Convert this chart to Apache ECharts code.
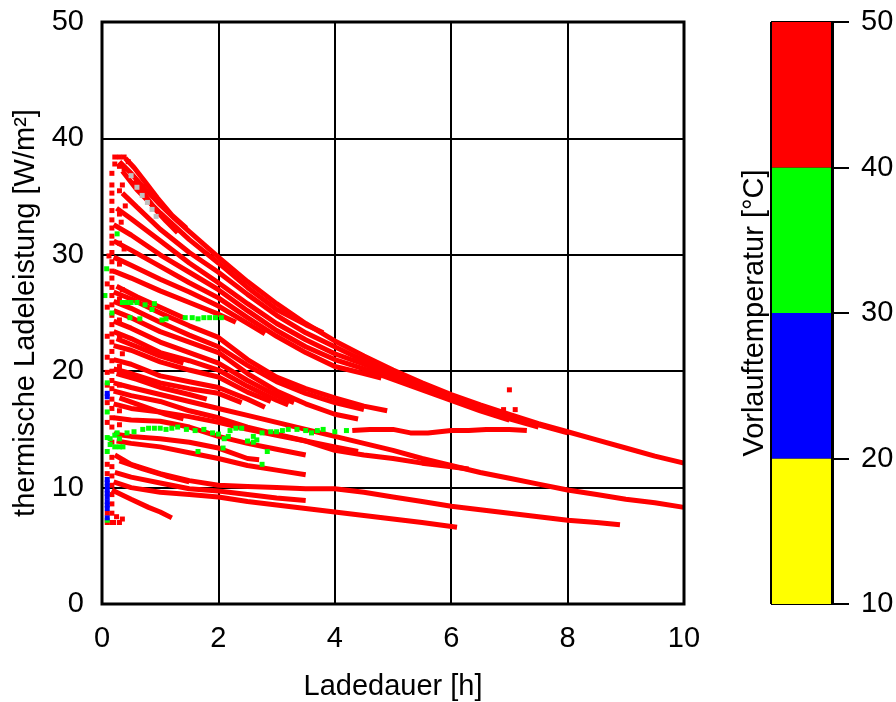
<!DOCTYPE html>
<html>
<head>
<meta charset="utf-8">
<script src="https://cdn.jsdelivr.net/npm/echarts@6/dist/echarts.min.js"></script>
<style>html,body{margin:0;padding:0;background:#fff}#c{width:896px;height:702px}</style>
</head>
<body>
<div id="c"></div>
<script>
// ---- axis / text data ----
const xAxisName = 'Ladedauer [h]';
const yAxisName = 'thermische Ladeleistung [W/m²]';
const cbarName = 'Vorlauftemperatur [°C]';
const xRange = [0, 10, 2];
const yRange = [0, 50, 10];
const cbarRange = [10, 50, 10];
const cbarBands = [[10, 20], [20, 30], [30, 40], [40, 50]];
const cbarColors = ['#ffff00', '#0000ff', '#00ff00', '#ff0000'];

// ---- red curves (Vorlauf 40-50 °C) ----
const topCurves = [
  [[0.35,37.2],[0.6,35.6],[1,33.6],[1.5,31.3],[2,29.3],[2.5,27.2],[3,25.3],[3.5,24.0],[3.8,23.3]],
  [[0.3,38.0],[0.5,37.0],[0.75,35.6],[1,34.3],[1.25,33.1],[1.5,32.0],[1.75,30.9],[2,29.8],[2.5,27.7],[3,25.8],[3.5,24.1],[4,22.6],[4.5,21.3],[5,20.1],[5.5,19.0],[6,18.0],[6.5,17.1],[7,16.3],[7.5,15.5],[8,14.8],[8.5,14.1],[9,13.4],[9.5,12.7],[10,12.1]],
  [[0.35,35.3],[0.6,34.1],[1,32.2],[1.5,30.2],[2,28.5],[2.5,26.6],[3,24.8],[3.5,23.3],[4,22.1],[4.5,20.9],[5,19.9],[5.5,18.9],[6,17.9],[6.5,17.0],[7,16.2],[7.5,15.4],[8,14.7]],
  [[0.25,34.0],[0.5,33.1],[1,31.2],[1.5,29.3],[2,27.6],[2.5,25.8],[3,24.1],[3.5,22.7],[4,21.5],[4.5,20.6],[5,19.6],[5.5,18.6],[6,17.6],[6.5,16.7],[7,15.9],[7.5,15.2]],
  [[0.2,32.6],[0.5,31.7],[1,30.0],[1.5,28.5],[2,27.0],[2.5,25.2],[3,23.5],[3.5,22.1],[4,21.0],[4.5,20.2],[5,19.3],[5.5,18.4],[6,17.5],[6.5,16.6],[7,15.8]],
  [[0.2,31.2],[0.5,30.4],[1,29.0],[1.5,27.6],[2,26.3],[2.5,24.6],[3,23.0],[3.5,21.6],[4,20.4],[4.5,19.8],[4.8,19.4]],
  [[0.2,29.8],[0.5,29.1],[1,27.9],[1.5,26.8],[2,25.6],[2.5,24.1],[2.8,23.2]],
  [[0.2,28.6],[0.5,28.0],[1,26.9],[1.5,25.9],[2,24.9],[2.3,24.2]],
  [[0.4,38.3],[0.55,37.5],[0.75,36.2],[0.95,34.9],[1.2,33.4],[1.45,32.3]],
  [[0.55,36.4],[0.7,35.4],[0.9,34.0],[1.1,32.9],[1.3,31.9]],
  [[0.25,27.3],[0.6,26.4],[1.0,25.5],[1.4,24.6]]
];
const midCurves = [
  [[0.2,26.8],[0.5,26.2],[1,25.0],[1.5,23.9],[2,22.9],[2.5,21.0],[3,19.5],[3.5,18.5],[4,17.7],[4.5,17.0],[4.9,16.6]],
  [[0.2,26.0],[0.5,25.4],[1,24.2],[1.5,23.1],[2,22.1],[2.5,20.5],[3,19.1],[3.5,18.1],[4,17.3],[4.5,16.7]],
  [[0.2,25.2],[0.5,24.6],[1,23.4],[1.5,22.5],[2,21.6],[2.5,19.8],[3,18.3],[3.5,17.2],[4,16.3],[4.4,15.9]],
  [[0.2,24.3],[0.5,23.7],[1,22.5],[1.5,21.6],[2,20.7],[2.5,19.2],[3,17.9],[3.3,17.3]],
  [[0.2,23.4],[0.5,22.8],[1,21.6],[1.5,20.9],[2,20.1],[2.5,18.7],[3,17.5],[3.2,17.1]],
  [[0.2,22.2],[0.5,21.8],[1,20.8],[1.5,20.1],[2,19.5],[2.5,18.2],[2.9,17.4]],
  [[0.2,21.0],[0.5,20.6],[1,19.6],[1.5,19.1],[2,18.6],[2.5,17.6],[2.8,16.9]],
  [[0.2,20.2],[0.5,19.8],[1,19.0],[1.5,18.5],[2,18.1],[2.4,17.3]],
  [[0.25,22.8],[0.6,22.1],[1.0,21.3],[1.4,20.7]],
  [[0.25,19.8],[0.6,19.3],[1.0,18.6],[1.5,18.0],[1.8,17.6]],
  [[0.3,17.7],[0.7,17.0],[1.1,16.3],[1.4,15.9]]
];
const lowerMidCurves = [
  [[0.2,19.0],[0.5,18.6],[1,18.0],[1.5,17.4],[2,16.8],[2.5,16.2],[3,15.6],[3.5,15.0],[4,14.4],[4.5,13.8],[5,13.2],[5.5,12.5],[6,11.9],[6.5,11.3],[7,10.8],[7.5,10.3],[8,9.8],[8.5,9.4],[9,9.0],[9.5,8.7],[10,8.3]],
  [[0.2,18.3],[0.5,17.9],[1,17.4],[1.5,16.6],[2,16.0],[2.5,15.2],[3,14.6],[3.5,14.0],[4,13.2],[4.5,12.8],[5,12.5],[5.5,12.1],[6,11.8],[6.3,11.6]],
  [[0.2,17.2],[0.5,16.8],[1,16.5],[1.5,16.1],[2,15.6],[2.5,15.0],[3,14.5],[3.5,14.0],[4,13.5],[4.4,13.1]],
  [[0.2,16.0],[0.5,15.8],[1,15.7],[1.5,15.2],[2,14.4],[2.5,13.8],[3,13.3],[3.5,12.8]],
  [[0.2,14.6],[0.5,14.4],[1,14.2],[1.5,13.9],[2,13.4],[2.5,12.5],[2.7,12.4]],
  [[0.25,14.0],[0.5,13.8],[1,13.5],[1.5,13.0],[2,12.5],[2.5,11.9],[3,11.5],[3.5,11.1]],
  [[4.3,14.9],[4.6,15.0],[5.0,15.0],[5.3,14.7],[5.6,14.7],[6.0,14.9],[6.3,14.9],[6.6,15.0],[7.0,15.0],[7.3,14.9]]
];
const lowCurves = [
  [[0.22,12.8],[0.5,12.0],[1,11.2],[1.5,10.6],[2,10.2],[2.5,10.1],[3,10.0],[3.5,9.9],[4,9.9],[4.5,9.6],[5,9.2],[5.5,8.8],[6,8.4],[6.5,8.1],[7,7.8],[7.5,7.5],[8,7.2],[8.5,7.0],[8.9,6.8]],
  [[0.22,11.3],[0.5,10.9],[1,10.4],[1.5,9.9],[2,9.7],[2.5,9.4],[3,9.1],[3.5,8.9]],
  [[0.2,10.5],[0.5,10.0],[1,9.6],[1.5,9.4],[2,9.2],[2.5,8.8],[3,8.5],[3.5,8.2],[4,7.9],[4.5,7.6],[5,7.3],[5.5,7.0],[6.1,6.6]],
  [[0.17,9.8],[0.5,9.0],[0.8,8.3],[1,7.9],[1.2,7.4]],
  [[0.3,12.3],[0.7,11.6],[1.1,11.0],[1.5,10.5]]
];
const redPoints = [
  [0.22,38.4],[0.3,38.4],[0.38,38.4],[0.22,37.8],[0.3,37.6],[0.38,37.4],[0.45,38.0],
  [0.17,37.0],[0.17,36.0],[0.17,35.3],[0.17,34.6],[0.17,33.8],[0.17,33.0],[0.17,32.3],[0.17,31.6],
  [0.17,31.0],[0.17,30.2],[0.17,29.4],[0.17,28.6],[0.17,28.0],[0.17,27.2],[0.17,26.5],[0.17,25.7],
  [0.17,24.8],[0.17,24.0],[0.17,23.2],[0.17,22.5],[0.17,21.7],[0.17,20.9],[0.17,20.0],[0.17,19.2],
  [0.17,18.5],[0.17,17.6],[0.17,16.8],[0.17,16.0],[0.17,15.2],[0.17,13.9],[0.17,12.6],[0.17,11.8],
  [0.17,11.0],[0.17,10.2],[0.17,9.4],[0.17,8.6],[0.17,7.8],[0.17,7.0],
  [0.09,21.2],[0.09,19.9],[0.09,18.8],[0.09,17.3],[0.09,15.6],[0.09,12.0],[0.09,11.2],[0.09,7.8],[0.09,7.0],
  [0.09,23.0],[0.09,25.5],[0.09,27.5],[0.12,29.9],
  [0.35,36.0],[0.4,34.2],[0.33,32.8],[0.38,30.5],[0.3,29.2],[0.35,27.0],[0.3,23.0],[0.35,21.5],
  [0.3,35.5],[0.3,33.5],[0.3,31.0],[0.3,26.2],[0.3,24.4],[0.3,20.4],[0.3,18.8],[0.3,16.6],[0.3,15.4],
  [0.2,7.0],[0.3,7.0],[0.35,7.3],[0.25,7.5],
  [7.0,18.4],[6.9,16.7],[7.1,16.7]
];
// ---- green points (Vorlauf 30-40 °C) ----
const greenPoints = [
  [0.05,26.5],[0.08,28.8],[0.17,25.0],[0.35,25.9],[0.42,25.9],[0.5,25.9],[0.6,25.9],[0.74,25.7],[0.9,25.8],
  [0.48,24.6],[0.65,24.5],[0.86,25.3],[1.03,24.4],[1.1,24.5],[1.43,24.6],[1.55,24.6],[1.65,24.5],
  [1.75,24.6],[1.85,24.6],[1.95,24.6],[2.05,24.6],[0.26,31.8],
  [0.22,14.5],[0.3,14.2],[0.43,14.7],[0.55,14.8],[0.7,15.0],[0.8,15.1],[0.9,15.1],[1.0,15.1],[1.1,15.0],
  [1.2,15.1],[1.3,15.2],[1.45,15.0],[1.6,14.9],[1.75,15.0],[1.9,14.7],[2.0,14.6],[2.1,14.2],[2.2,14.9],
  [2.3,15.1],[2.4,15.1],[2.6,14.4],[2.75,14.7],[2.9,14.8],[3.0,14.8],[3.1,14.9],[3.2,15.0],[3.35,15.0],
  [3.5,14.9],[3.6,14.7],[3.7,14.9],[3.8,15.0],[4.0,14.8],[4.2,14.9],
  [2.5,14.0],[2.6,13.9],[2.66,14.1],[2.84,13.1],[2.75,12.0],[2.08,13.4],[2.17,14.4],[1.65,13.1],
  [0.09,19.0],[0.09,16.5],[0.09,14.3],[0.14,14.2],[0.14,13.7],[0.22,13.5],[0.3,13.5],[0.36,13.5],
  [0.09,13.1],[0.26,14.7],[0.09,7.2]
];
// ---- blue points (Vorlauf 20-30 °C) ----
const bluePoints = [
  [0.09,18.1],[0.09,17.8],[0.09,10.7],[0.09,10.4],[0.09,10.1],[0.09,9.8],[0.09,9.5],[0.09,9.2],
  [0.09,8.8],[0.09,8.5],[0.09,8.2],[0.09,7.4]
];
// ---- grey points ----
const greyPoints = [[0.5,36.8],[0.6,35.8],[0.69,35.1],[0.78,34.5],[0.86,33.9],[0.93,33.3]];

const FONT = 'Liberation Sans';
const FS = 29;
const CBAR_W = 61;   // colour bar width in x-units of its own axis (= px)
const CBAR_TICK = 17; // tick length beyond the bar
const chart = echarts.init(document.getElementById('c'), null, {renderer: 'canvas'});

const series = [];
[topCurves, midCurves, lowerMidCurves, lowCurves].forEach(group => {
  group.forEach(curve => {
    series.push({
      type: 'line', xAxisIndex: 0, yAxisIndex: 0, data: curve,
      symbol: 'none', showSymbol: false, silent: true,
      lineStyle: {color: cbarColors[3], width: 5, cap: 'butt'}, z: 2
    });
  });
});
function pts(data, color, z) {
  return {type: 'scatter', xAxisIndex: 0, yAxisIndex: 0, data: data, symbol: 'rect',
          symbolSize: 5, itemStyle: {color: color, opacity: 1}, silent: true, z: z};
}
series.push(pts(redPoints, cbarColors[3], 3));
series.push(pts(greenPoints, cbarColors[2], 4));
series.push(pts(bluePoints, cbarColors[1], 5));
series.push(pts(greyPoints, '#c0c0c0', 5));
series.push({
  type: 'scatter', xAxisIndex: 1, yAxisIndex: 1, data: [[30, 30]], symbolSize: 0, silent: true,
  markArea: {
    silent: true,
    data: cbarBands.map((b, i) => [
      {xAxis: 0, yAxis: b[0], itemStyle: {color: cbarColors[i], borderWidth: 0, opacity: 1}},
      {xAxis: CBAR_W, yAxis: b[1]}
    ])
  },
  markLine: {
    silent: true, symbol: 'none', label: {show: false},
    data: [
      {xAxis: 0, lineStyle: {color: '#000', width: 2, type: 'solid'}},
      {xAxis: CBAR_W, lineStyle: {color: '#000', width: 3, type: 'solid'}}
    ]
  }
});

const txt = {color: '#000', fontFamily: FONT, fontSize: FS};
chart.setOption({
  animation: false,
  backgroundColor: '#fff',
  grid: [
    {left: 102, top: 22, width: 582, height: 582, show: true, borderColor: '#000', borderWidth: 3, z: 10,
     backgroundColor: 'transparent', containLabel: false, outerBoundsMode: 'none'},
    {left: 771, top: 22, width: CBAR_W + CBAR_TICK, height: 582, show: false,
     containLabel: false, outerBoundsMode: 'none'}
  ],
  xAxis: [
    {gridIndex: 0, type: 'value', min: xRange[0], max: xRange[1], interval: xRange[2],
     axisLine: {show: false}, axisTick: {show: false},
     axisLabel: Object.assign({margin: 20}, txt),
     splitLine: {show: true, lineStyle: {color: '#000', width: 2}},
     name: xAxisName, nameLocation: 'middle', nameGap: 68, nameTextStyle: txt},
    {gridIndex: 1, type: 'value', min: 0, max: CBAR_W + CBAR_TICK, show: false}
  ],
  yAxis: [
    {gridIndex: 0, type: 'value', min: yRange[0], max: yRange[1], interval: yRange[2],
     axisLine: {show: false}, axisTick: {show: false},
     axisLabel: Object.assign({margin: 18}, txt),
     splitLine: {show: true, lineStyle: {color: '#000', width: 2}},
     name: yAxisName, nameLocation: 'middle', nameGap: 57, nameTextStyle: txt},
    {gridIndex: 1, type: 'value', position: 'right', min: cbarRange[0], max: cbarRange[1], interval: cbarRange[2],
     axisLine: {show: false}, axisTick: {show: false},
     axisLabel: Object.assign({margin: 12}, txt),
     splitLine: {show: true, lineStyle: {color: '#000', width: 2}}},
    {gridIndex: 1, type: 'value', position: 'left', min: cbarRange[0], max: cbarRange[1],
     axisLine: {show: false}, axisTick: {show: false}, axisLabel: {show: false}, splitLine: {show: false},
     name: cbarName, nameLocation: 'middle', nameGap: 2, nameTextStyle: txt}
  ],
  series: series
});
</script>
</body>
</html>
